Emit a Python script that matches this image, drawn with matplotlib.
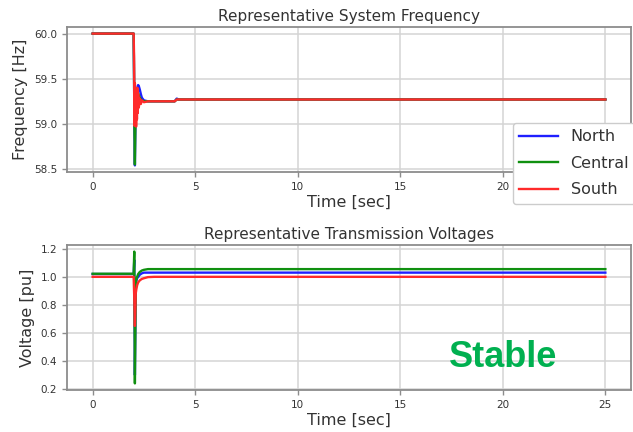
import matplotlib
matplotlib.use("Agg")
import matplotlib.pyplot as plt
import numpy as np

# ---------------- data ----------------
series_names = ["North", "Central", "South"]
series_colors = ["#1f1fff", "#109010", "#ff2a2a"]

# Frequency (Hz)
t_freq = [0, 2.0, 2.02, 2.04, 2.06, 2.08, 2.10, 2.12, 2.14, 2.16, 2.18, 2.20, 2.22,
          2.25, 2.30, 2.35, 2.40, 2.50, 2.70, 3.0, 4.0, 4.1, 4.2, 25]
freq_north = [60, 60, 59.5, 58.9, 58.54, 58.9, 59.2, 59.28, 59.33, 59.37, 59.40, 59.42, 59.43,
              59.42, 59.38, 59.33, 59.29, 59.26, 59.25, 59.25, 59.25, 59.28, 59.27, 59.27]
freq_central = [60, 60, 59.5, 58.9, 58.55, 58.9, 59.2, 59.26, 59.31, 59.34, 59.35, 59.35, 59.34,
                59.32, 59.29, 59.27, 59.26, 59.25, 59.25, 59.25, 59.25, 59.27, 59.27, 59.27]
freq_south = [60, 60, 59.74, 58.98, 59.45, 59.0, 59.38, 58.97, 59.32, 59.05, 59.40, 59.12, 59.33,
              59.18, 59.28, 59.22, 59.26, 59.24, 59.25, 59.25, 59.25, 59.27, 59.27, 59.27]

# Voltage (pu)
t_volt = [0, 2.0, 2.03, 2.06, 2.08, 2.10, 2.13, 2.17, 2.22, 2.30, 2.40, 2.50, 2.70, 3.0, 4.0, 25]
volt_north = [1.02, 1.02, 1.12, 0.30, 0.60, 0.93, 0.97, 0.99, 1.00, 1.015, 1.025, 1.03, 1.03, 1.03, 1.03, 1.03]
volt_central = [1.022, 1.022, 1.18, 0.24, 0.55, 0.95, 0.98, 1.00, 1.02, 1.035, 1.045, 1.05, 1.055, 1.055, 1.055, 1.055]
volt_south = [1.00, 1.00, 0.85, 0.65, 0.75, 0.88, 0.91, 0.94, 0.96, 0.975, 0.985, 0.99, 0.998, 1.0, 1.0, 1.0]

freq_yticks = [58.5, 59.0, 59.5, 60.0]
volt_yticks = [0.2, 0.4, 0.6, 0.8, 1.0, 1.2]
x_ticks = [0, 5, 10, 15, 20, 25]

# ---------------- style ----------------
plt.rcParams["font.family"] = ["DejaVu Sans"]
text_color = "#333333"
spine_color = "#8c8c8c"
grid_color = "#d4d4d4"

W, H = 633, 432
fig = plt.figure(figsize=(W / 100, H / 100), dpi=100)

ax1 = fig.add_axes([67 / W, 1 - 172 / H, (631 - 67) / W, (172 - 27) / H])
ax2 = fig.add_axes([67 / W, 1 - 390 / H, (631 - 67) / W, (390 - 245) / H])


def style(ax):
    for s in ax.spines.values():
        s.set_color(spine_color)
        s.set_linewidth(1.3)
    ax.grid(True, color=grid_color, linewidth=1.1)
    ax.set_axisbelow(True)
    ax.tick_params(colors=spine_color, labelcolor=text_color, labelsize=7.5, width=1.0, length=3.5)


lw = 1.7
for name, col, vals in zip(series_names, series_colors, [freq_north, freq_central, freq_south]):
    ax1.plot(t_freq, vals, color=col, lw=lw, label=name)
for name, col, vals in zip(series_names, series_colors, [volt_north, volt_central, volt_south]):
    ax2.plot(t_volt, vals, color=col, lw=lw, label=name)

for ax in (ax1, ax2):
    style(ax)
    ax.set_xticks(x_ticks)
    ax.set_xlabel("Time [sec]", fontsize=11.5, color=text_color, labelpad=2)

ax1.set_yticks(freq_yticks)
ax1.set_yticklabels([f"{v:.1f}" for v in freq_yticks])
ax2.set_yticks(volt_yticks)
ax2.set_yticklabels([f"{v:.1f}" for v in volt_yticks])

ax1.set_title("Representative System Frequency", fontsize=11, color=text_color, pad=4)
ax2.set_title("Representative Transmission Voltages", fontsize=11, color=text_color, pad=4)
ax1.set_ylabel("Frequency [Hz]", fontsize=11.5, color=text_color, labelpad=4)
ax2.set_ylabel("Voltage [pu]", fontsize=11.5, color=text_color, labelpad=4)

leg = ax1.legend(loc="upper left", bbox_to_anchor=(513 / W, 1 - 123 / H),
                 bbox_transform=fig.transFigure, borderaxespad=0, fontsize=11.5,
                 handlelength=2.4, handletextpad=0.8, labelspacing=0.72,
                 framealpha=1.0, edgecolor="#cccccc")
for t in leg.get_texts():
    t.set_color(text_color)

fig.text(449 / W, 1 - 367 / H, "Stable", fontsize=26, fontweight="bold",
         family="Liberation Sans", color="#00b050", ha="left", va="baseline")

fig.savefig("out.png", dpi=100)
